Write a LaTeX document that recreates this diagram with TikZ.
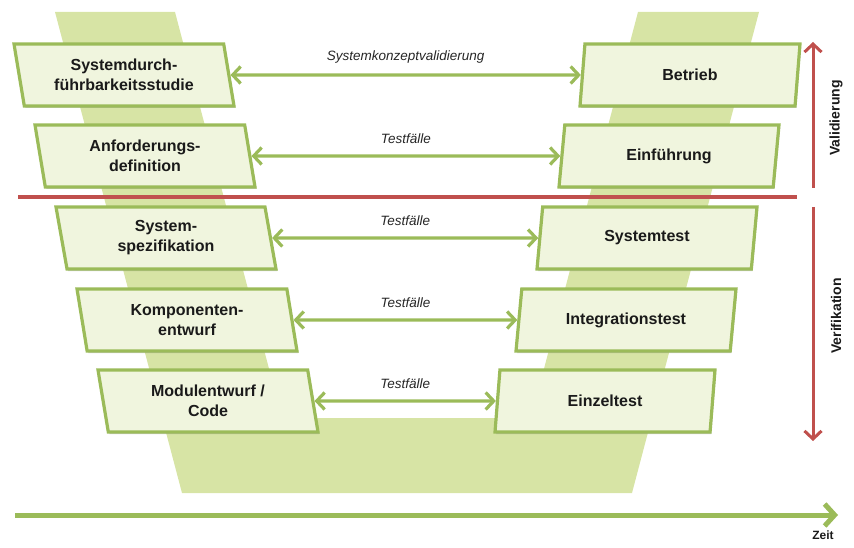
\documentclass[tikz,border=0pt]{standalone}
\usepackage{fontspec}
\setmainfont{Liberation Sans}
\usetikzlibrary{shapes.geometric,arrows.meta,shadows}
\definecolor{vgreen}{HTML}{9BBB59}
\definecolor{vband}{HTML}{D7E4A5}
\definecolor{vfill}{HTML}{F0F5DE}
\definecolor{vred}{HTML}{C0504D}
\definecolor{vtext}{HTML}{1A1A1A}
\tikzset{>={Straight Barb[length=8pt,width=17pt]}}
\tikzset{
  phase/.style={trapezium, trapezium stretches body, draw=vgreen, line width=3.2pt,
    fill=vfill, minimum width=220pt, minimum height=62pt, align=center, text=vtext,
    font=\fontsize{16}{20}\selectfont\bfseries,
    drop shadow={shadow xshift=1.2pt, shadow yshift=-2pt, opacity=0.4, fill=black!45}},
  leftphase/.style={phase, trapezium left angle=105, trapezium right angle=75},
  rightphase/.style={phase, trapezium left angle=75, trapezium right angle=105},
  link/.style={<->, vgreen, line width=3.2pt},
  linklabel/.style={midway, above=7pt, font=\fontsize{13.5}{16}\selectfont\itshape, text=black!85},
  axislabel/.style={rotate=90, font=\fontsize{14}{16}\selectfont\bfseries, text=vtext},
}

\begin{document}
\begin{tikzpicture}[x=1pt,y=-1pt]
    \useasboundingbox (0,0) rectangle (854,548);
    % the V in the background
    \fill[vband] (55,12) -- (175,12) -- (282,418) -- (531,418) -- (638,12)
      -- (759,12) -- (632,493) -- (182,493) -- cycle;

    % left branch
    \node[leftphase] (studie) at (124,75) {Systemdurch-\\führbarkeitsstudie};
    \node[leftphase] (anford) at (145,156) {Anforderungs-\\definition};
    \node[leftphase] (spez) at (166,238) {System-\\spezifikation};
    \node[leftphase] (kompo) at (187,320) {Komponenten-\\entwurf};
    \node[leftphase] (modul) at (208,401) {Modulentwurf /\\Code};

    % right branch
    \node[rightphase] (betrieb) at (690,75) {Betrieb};
    \node[rightphase] (einf) at (669,156) {Einführung};
    \node[rightphase] (systest) at (647,238) {Systemtest};
    \node[rightphase] (integ) at (626,320) {Integrationstest};
    \node[rightphase] (einzel) at (605,401) {Einzeltest};

    \draw[link] (studie.east) -- node[linklabel]{Systemkonzeptvalidierung} (betrieb.west);
    \draw[link] (anford.east) -- node[linklabel]{Testfälle} (einf.west);
    \draw[link] (spez.east) -- node[linklabel]{Testfälle} (systest.west);
    \draw[link] (kompo.east) -- node[linklabel]{Testfälle} (integ.west);
    \draw[link] (modul.east) -- node[linklabel]{Testfälle} (einzel.west);

    % validation / verification
    \coordinate (sepL) at (18,197);
    \coordinate (sepR) at (797,197);
    \draw[vred, line width=3.2pt] (sepL) -- (sepR);
    \coordinate (valbot) at (813,188);
    \coordinate (valtop) at (813,42);
    \coordinate (vertop) at (813,207);
    \coordinate (verbot) at (813,441);
    \draw[->, vred, line width=3pt] (valbot) -- (valtop);
    \draw[->, vred, line width=3pt] (vertop) -- (verbot);
    \node[axislabel] (valtxt) at (836,118) {Validierung};
    \node[axislabel] (vertxt) at (836,316) {Verifikation};

    % time axis
    \coordinate (t0) at (15,515);
    \coordinate (t1) at (838,515);
    \draw[-{Straight Barb[length=10pt,width=22pt]}, vgreen, line width=5pt] (t0) -- (t1);
    \node[font=\fontsize{12}{14}\selectfont\bfseries, text=vtext] (zeit) at (823,535) {Zeit};
\end{tikzpicture}
\end{document}
